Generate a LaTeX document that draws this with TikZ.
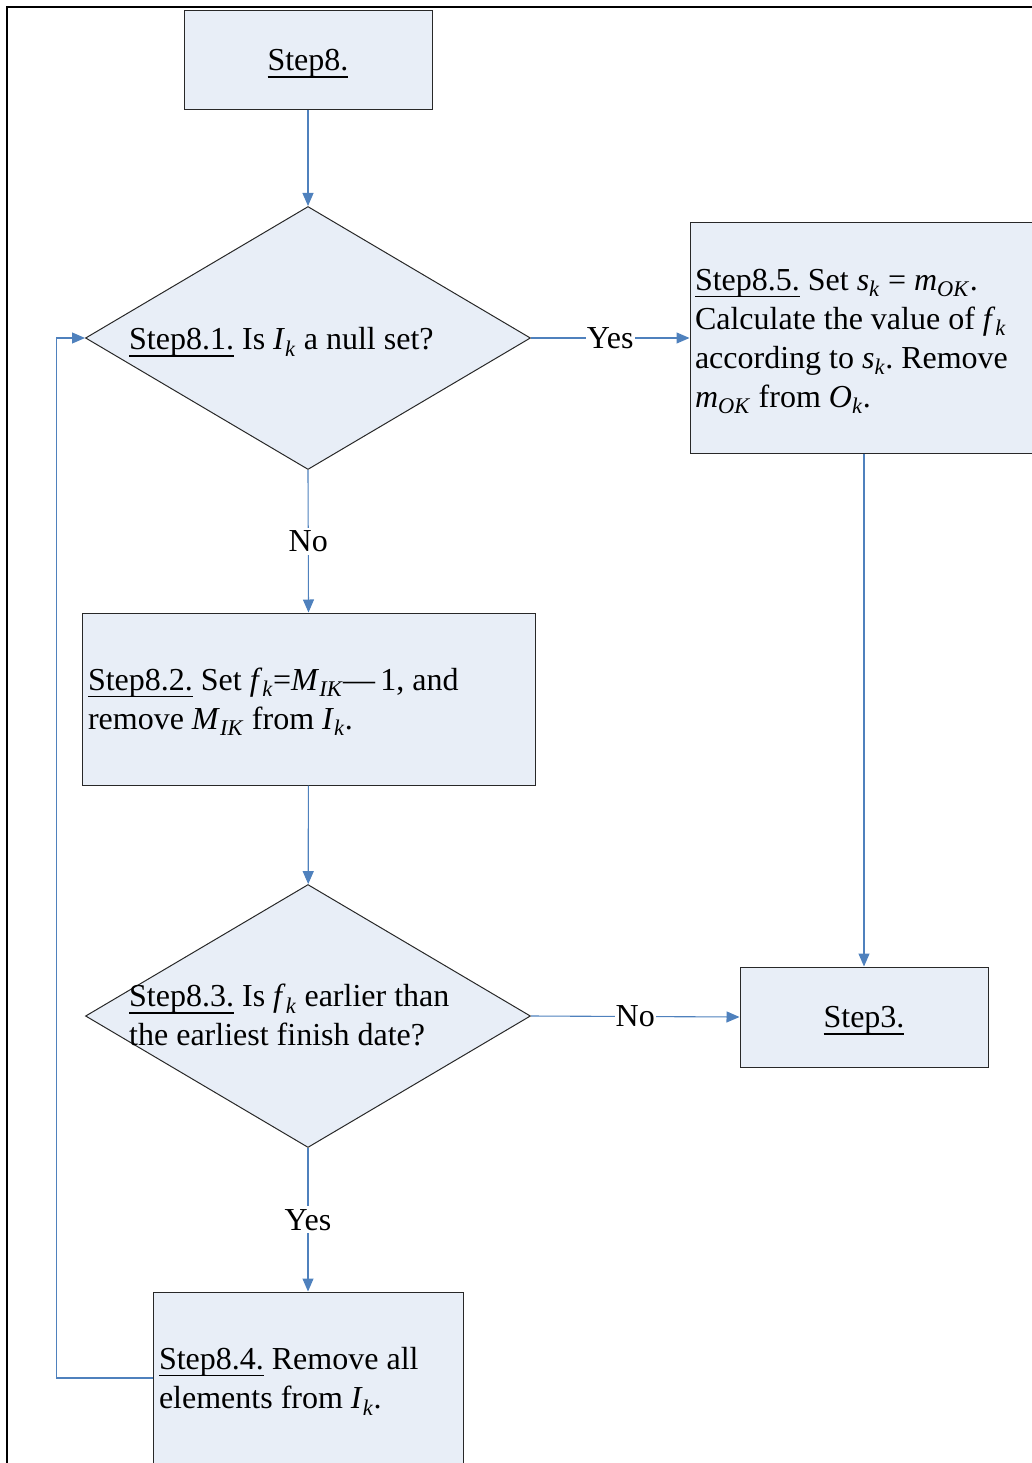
\documentclass[tikz,border=0pt]{standalone}
\usepackage{fontspec}
\setmainfont{Liberation Serif}
\usetikzlibrary{shapes.geometric,arrows.meta}
\definecolor{boxfill}{RGB}{232,238,247}
\definecolor{flow}{RGB}{79,129,189}
\definecolor{edgeline}{RGB}{40,40,40}
% italic symbol with italic subscript
\newcommand{\iv}[2]{\textit{#1}\textsubscript{\textit{#2}}}
% underlined step number
\newcommand{\stepno}[1]{{\setbox0\hbox{#1}\rlap{\rule[-7pt]{\wd0}{1.5pt}}\box0}}
% taller first line, so the text block sits a little lower
\newcommand{\tallstrut}{\rule{0pt}{28pt}}
\begin{document}
\begin{tikzpicture}[x=1pt,y=-1pt,
  basefont/.style={font=\fontsize{32}{39}\selectfont\frenchspacing},
  stepbox/.style={basefont, draw=edgeline, line width=1pt, fill=boxfill,
    rectangle, inner ysep=0pt},
  decision/.style={draw=edgeline, line width=1pt, fill=boxfill, diamond,
    inner sep=0pt},
  txt/.style={basefont, inner sep=0pt, align=flush left},
  flowline/.style={draw=flow, line width=1.1pt},
  flowarrow/.style={flowline, -{Triangle[length=13pt,width=11pt]}},
  lbl/.style={basefont, fill=white, inner xsep=1pt, inner ysep=3pt}]

\useasboundingbox (0,0) rectangle (1032,1463);
\clip (0,0) rectangle (1032,1463);

% page frame
\draw[line width=2.2pt] (7,1470) -- (7,7) -- (1040,7);

% steps
\node[stepbox, minimum width=248, minimum height=99, align=center]
  (s8) at (308,60.5) {\tallstrut\stepno{Step8.}};

\node[decision, minimum width=445, minimum height=263] (d1) at (308,338) {};
\node[txt, anchor=west] (q1) at (129,339)
  {\tallstrut\stepno{Step8.1.} Is \iv{I}{k} a null set?};

\node[stepbox, minimum width=348, minimum height=230, text width=338,
  inner xsep=5pt, align=flush left] (s85) at (864,338)
  {\tallstrut\stepno{Step8.5.} Set \iv{s}{k} = \iv{m}{OK}.\\
   Calculate the value of \iv{f}{k}\\
   according to \iv{s}{k}. Remove\\
   \iv{m}{OK} from \iv{O}{k}.};

\node[stepbox, minimum width=453, minimum height=172, text width=441,
  inner xsep=6pt, align=flush left] (s82) at (308.5,699)
  {\tallstrut\stepno{Step8.2.} Set \iv{f}{k}=\iv{M}{IK}—\,1, and\\
   remove \iv{M}{IK} from \iv{I}{k}.};

\node[decision, minimum width=445, minimum height=263] (d2) at (308,1016) {};
\node[txt, anchor=west] (q2) at (129,1015)
  {\stepno{Step8.3.} Is \iv{f}{k} earlier than\\
   the earliest finish date?};

\node[stepbox, minimum width=248, minimum height=100, align=center]
  (s3) at (864,1017) {\tallstrut\stepno{Step3.}};

\node[stepbox, minimum width=310, minimum height=172, text width=298,
  inner xsep=6pt, align=flush left] (s84) at (308,1378)
  {\tallstrut\stepno{Step8.4.} Remove all\\
   elements from \iv{I}{k}.};

% connectors
\draw[flowarrow] (s8) -- (d1);
\draw[flowarrow] (d1.east) -- node[lbl] {Yes} (s85.west);
\draw[flowarrow] (d1.south) -- node[lbl] {No} (s82.north);
\draw[flowarrow] (s82) -- (d2);
\draw[flowarrow] (d2.east) -- node[lbl] {No} (s3.west);
\draw[flowarrow] (d2.south) -- node[lbl] {Yes} (s84.north);
\draw[flowarrow] (s85.south) -- (s3.north);
\draw[flowarrow] (s84.west) -- ++(-96,0) |- (d1.west);
\end{tikzpicture}
\end{document}
